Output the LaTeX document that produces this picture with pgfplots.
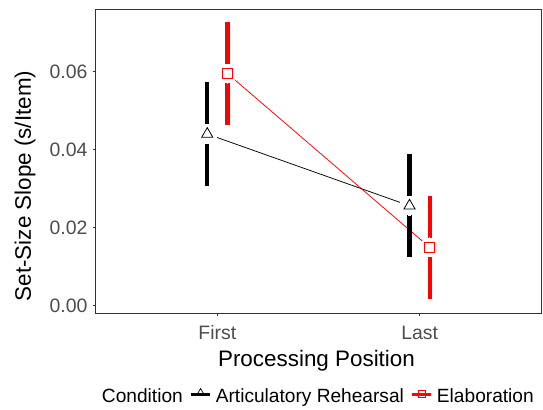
\documentclass[border=0pt]{standalone}
\usepackage{pgfplots}
\pgfplotsset{compat=1.18}
\usepackage{pgfplotstable}
\usepackage{fontspec}
\setmainfont{Liberation Sans}
\definecolor{tickgray}{HTML}{4D4D4D}
\definecolor{framegray}{HTML}{333333}

\pgfplotstableread{
x y e
0.95 0.0441 0.0133
1.95 0.0257 0.0132
}\artic
\pgfplotstableread{
x y e
1.05 0.0596 0.0132
2.05 0.0150 0.0132
}\elab

\pgfplotsset{
  keyA/.style={legend image code/.code={
    \draw[black, line width=3bp] (0bp,8.5bp) -- (19.5bp,8.5bp);
    \draw[black, line width=0.7bp] plot[mark=triangle, mark size=4bp, mark options={black, line width=0.7bp, fill=none}] coordinates {(9.75bp,10bp)};
  }},
  keyB/.style={legend image code/.code={
    \draw[red, line width=3bp] (0bp,8.5bp) -- (19.5bp,8.5bp);
    \draw[red, line width=0.7bp] plot[mark=square, mark size=3.6bp, mark options={red, line width=0.7bp, fill=none}] coordinates {(9.75bp,8.5bp)};
  }},
}

\begin{document}
\begin{tikzpicture}
\begin{axis}[
  at={(0,0)}, anchor=south west,
  scale only axis, width=445bp, height=304bp,
  xmin=0.4, xmax=2.6, ymin=-0.0018, ymax=0.07615,
  xtick={1,2}, xticklabels={First,Last},
  ytick={0,0.02,0.04,0.06},
  scaled y ticks=false,
  /pgf/number format/assume math mode=true,
  y tick label style={/pgf/number format/fixed, /pgf/number format/fixed zerofill, /pgf/number format/precision=2},
  yticklabel style={anchor=east, inner sep=0pt, xshift=-5.3bp, font=\fontsize{19.5}{20}\selectfont, text=tickgray},
  xticklabel style={anchor=base, inner sep=0pt, yshift=-23.5bp, font=\fontsize{19.5}{20}\selectfont, text=tickgray},
  tick pos=left, tick align=outside, major tick length=3bp,
  tick style={framegray, line width=1bp},
  axis line style={framegray, line width=1bp},
  xlabel={Processing Position},
  ylabel={Set-Size Slope (s/Item)},
  xlabel style={at={(axis description cs:0.4955,0)}, anchor=base, yshift=-53bp, inner sep=0pt, font=\fontsize{22.5}{24}\selectfont},
  ylabel style={at={(axis description cs:-0.1596,0.418)}, anchor=center, inner sep=0pt, font=\fontsize{22.5}{24}\selectfont},
  legend columns=-1,
  legend style={at={(axis description cs:0,0)}, anchor=south west, xshift=2bp, yshift=-91bp,
    draw=none, fill=none, inner sep=0pt, outer sep=0pt,
    font=\fontsize{19.2}{20}\selectfont,
    nodes={inner sep=0pt, anchor=base west},
    /tikz/every odd column/.style={column sep=4bp},
    /tikz/every even column/.style={column sep=6.5bp}},
]
% connecting lines
\addplot[forget plot, black, line width=0.75bp, no marks] table[x=x, y=y] {\artic};
\addplot[forget plot, red, line width=0.75bp, no marks] table[x=x, y=y] {\elab};
% error bars
\addplot[forget plot, only marks, mark=none, error bars/.cd, y dir=both, y explicit, error mark=none,
  error bar style={line width=4.5bp, black}] table[x=x, y=y, y error=e] {\artic};
\addplot[forget plot, only marks, mark=none, error bars/.cd, y dir=both, y explicit, error mark=none,
  error bar style={line width=4.5bp, red}] table[x=x, y=y, y error=e] {\elab};
% white halos
\addplot[forget plot, white, only marks, mark=*, mark size=9.5bp, mark options={draw=white, fill=white, line width=0pt}] table[x=x, y=y] {\artic};
\addplot[forget plot, white, only marks, mark=*, mark size=9.5bp, mark options={draw=white, fill=white, line width=0pt}] table[x=x, y=y] {\elab};
% markers
\addplot[forget plot, only marks, mark=triangle, mark size=6.4bp, mark options={black, line width=0.8bp, fill=white}] table[x=x, y=y] {\artic};
\addplot[forget plot, only marks, mark=square, mark size=4.9bp, mark options={red, line width=0.8bp, fill=white}] table[x=x, y=y] {\elab};
% legend
\addlegendimage{empty legend}
\addlegendentry{Condition}
\addlegendimage{keyA}
\addlegendentry{Articulatory Rehearsal}
\addlegendimage{keyB}
\addlegendentry{Elaboration}
\end{axis}
\pgfresetboundingbox
\path[use as bounding box] (-96bp,-97bp) rectangle (447bp,313bp);
\end{tikzpicture}
\end{document}
